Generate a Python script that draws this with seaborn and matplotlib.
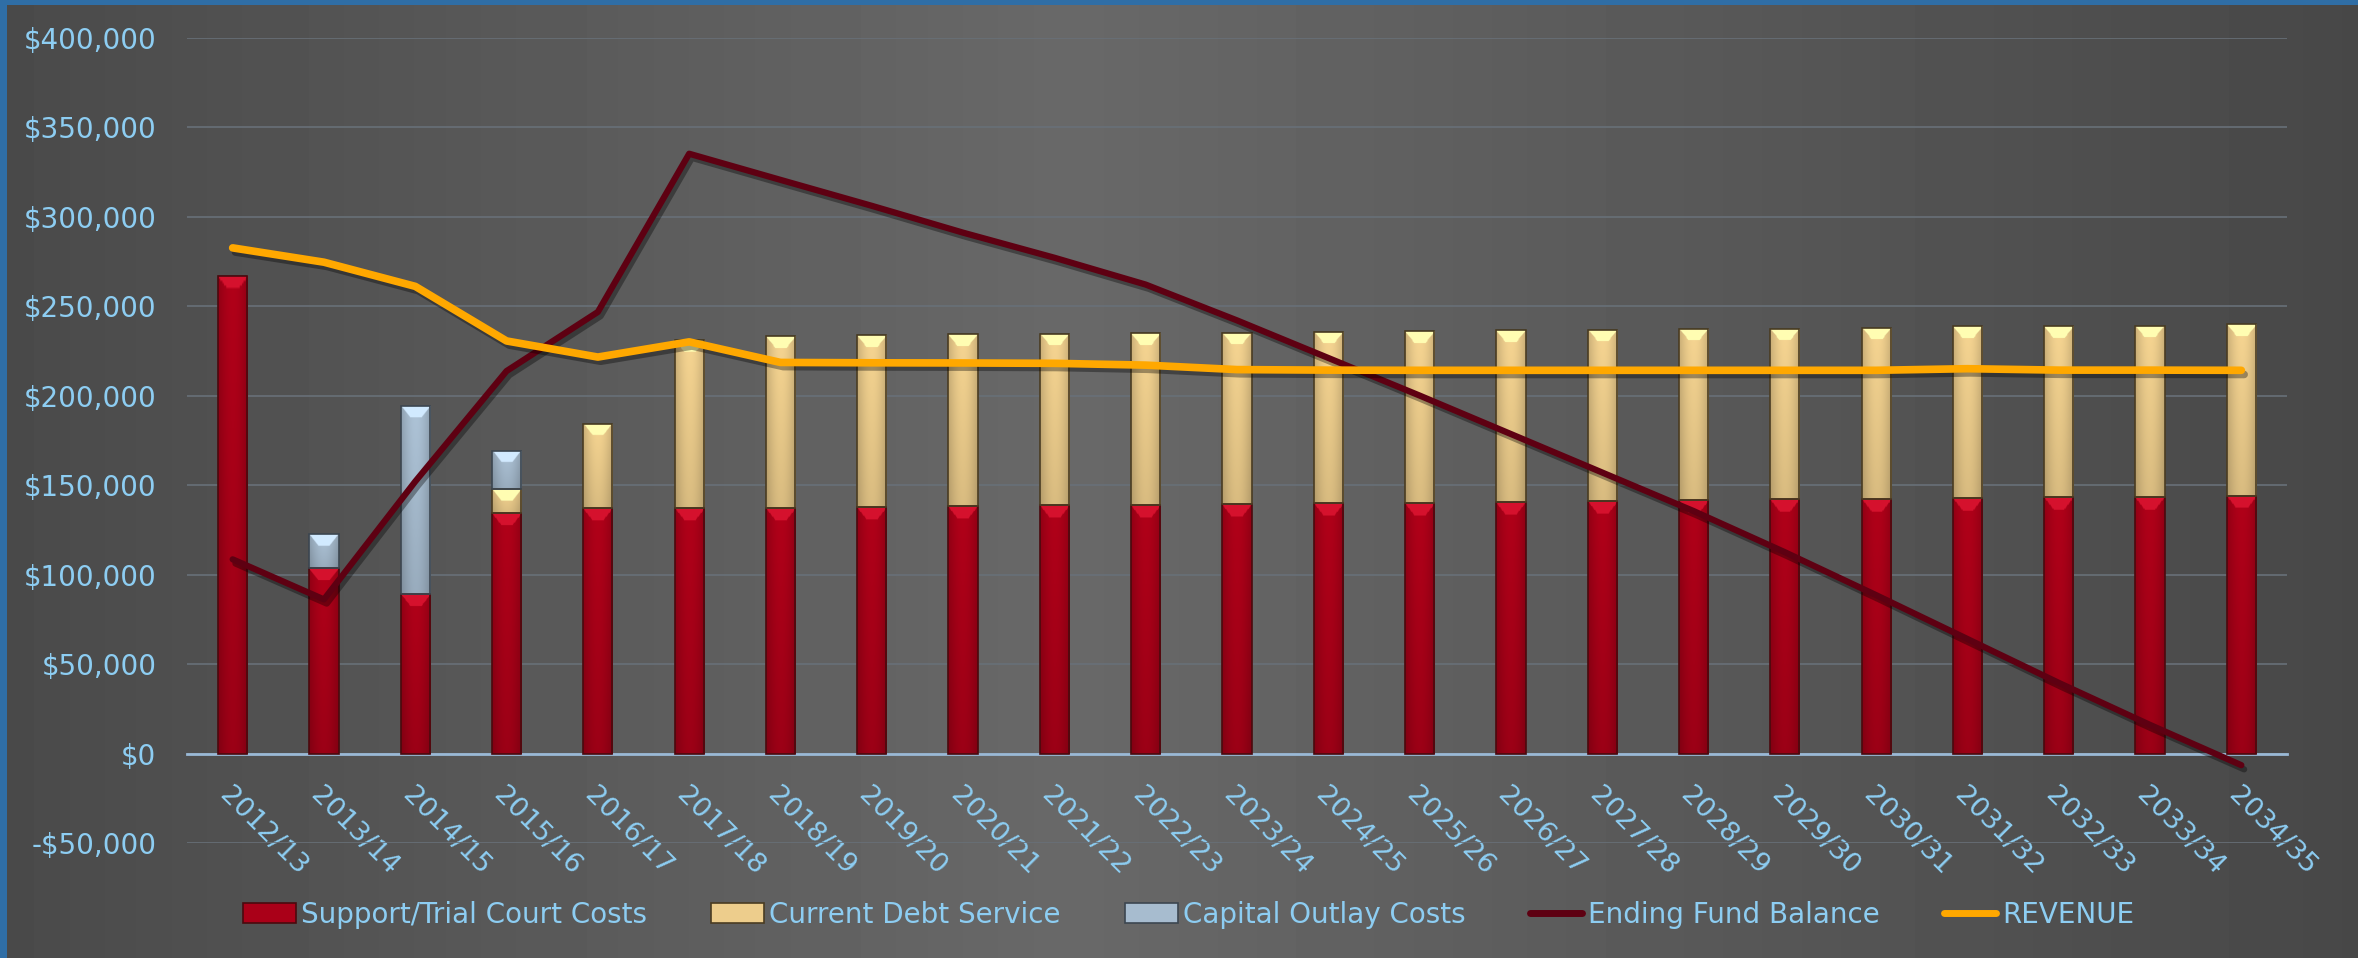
import numpy as np
import pandas as pd
import seaborn as sns
import matplotlib.pyplot as plt
import matplotlib.patheffects as pe
from matplotlib.colors import to_rgb
from matplotlib.patches import Patch
from matplotlib.lines import Line2D
from matplotlib.ticker import FuncFormatter

# valeurs
annees = ['2012/13', '2013/14', '2014/15', '2015/16', '2016/17', '2017/18', '2018/19',
          '2019/20', '2020/21', '2021/22', '2022/23', '2023/24', '2024/25', '2025/26',
          '2026/27', '2027/28', '2028/29', '2029/30', '2030/31', '2031/32', '2032/33',
          '2033/34', '2034/35']
support = [266600, 103500, 89100, 134200, 136900, 137000, 137300, 137800, 138300, 138700,
           139100, 139300, 139700, 140200, 140600, 140900, 141500, 142000, 142200, 142700,
           143200, 143500, 144100]
dette = [0, 0, 0, 13400, 47400, 93800, 95800, 95800, 95900, 95700, 95600, 95800, 95600,
         95700, 95800, 95900, 95800, 95300, 95800, 95900, 95400, 95600, 95600]
capital = [0, 18900, 105200, 21400, 0, 0, 0, 0, 0, 0, 0, 0, 0, 0, 0, 0, 0, 0, 0, 0, 0, 0, 0]
solde = [108500, 86100, 152000, 213700, 246700, 335100, 320500, 306000, 291000, 277000,
         262000, 242000, 221000, 200000, 178500, 157000, 135500, 112500, 88500, 64000,
         39500, 16000, -6500]
revenu = [282500, 274500, 261000, 230500, 221500, 230000, 218500, 218300, 218200, 218000,
          217000, 214500, 214200, 214100, 214100, 214100, 214100, 214100, 214100, 215000,
          214200, 214200, 214100]

df = pd.DataFrame({'Annee': annees, 'Support': support, 'Dette': dette, 'Capital': capital,
                   'Solde': solde, 'Revenu': revenu})
df['Base_capital'] = df['Support'] + df['Dette']

texte = '#8dcdf2'
rouge, beige, bleu = '#aa0018', '#edcd8c', '#a7bccf'
bordeaux, orange = '#5e0012', '#ffa800'

sns.set_style('white')
plt.rcParams['font.family'] = ['DejaVu Sans']

fig = plt.figure(figsize=(23.58, 9.58), dpi=100)
fig.patch.set_facecolor('#2f6ea6')

# fond gris en dégradé
fond = fig.add_axes([7 / 2358, 0, 1 - 7 / 2358, 1 - 5 / 958], zorder=-10)
xs = np.linspace(0, 1, 600)
profil = np.interp(xs, [0, 0.45, 1], [0.29, 0.41, 0.28])
img = np.tile(profil, (50, 1))
fond.imshow(img, cmap='gray', vmin=0, vmax=1, aspect='auto', extent=[0, 1, 0, 1])
fond.axis('off')

ax = fig.add_axes([187 / 2358, 0.120, 2100 / 2358, 0.8408])
ax.patch.set_alpha(0)

largeur = 0.32
sns.barplot(data=df, x='Annee', y='Support', color=rouge, width=largeur, saturation=1,
            edgecolor='#4a0a0e', linewidth=1.2, ax=ax, zorder=3)
sns.barplot(data=df, x='Annee', y='Dette', bottom=df['Support'], color=beige, width=largeur,
            saturation=1, edgecolor='#4a3c22', linewidth=1.2, ax=ax, zorder=3)
sns.barplot(data=df, x='Annee', y='Capital', bottom=df['Base_capital'], color=bleu,
            width=largeur, saturation=1, edgecolor='#3c4650', linewidth=1.2, ax=ax, zorder=3)

# effet biseauté sur chaque barre (dégradé horizontal + facette claire en haut)
u = np.linspace(0, 1, 40)
cyl = 0.86 + 0.18 * np.sin(np.pi * u)
biseau = 6500  # hauteur de la facette, en unités de données
for barre in list(ax.patches):
    h = barre.get_height()
    if h <= 0:
        continue
    x0, y0, w = barre.get_x(), barre.get_y(), barre.get_width()
    base = np.array(to_rgb(barre.get_facecolor()))
    n = 200
    v = np.linspace(1, 0, n)[:, None]  # 1 = haut
    dist = (1 - v) * h  # distance depuis le haut
    lum = np.tile(cyl, (n, 1)) * (1 - 0.12 * (1 - v))
    rgb = base[None, None, :] * lum[:, :, None]
    facette = (dist < biseau * 3.2 * np.minimum(u, 1 - u)[None, :]) & (dist < biseau)
    clair = base * 1.15 + 0.07
    rgb = np.where(facette[:, :, None], clair[None, None, :], rgb)
    rgb = np.clip(rgb, 0, 1)
    im = ax.imshow(rgb, extent=[x0, x0 + w, y0, y0 + h], aspect='auto', zorder=3.1,
                   interpolation='bilinear')
    im.set_clip_path(barre)
    barre.set_facecolor('none')
    barre.set_zorder(3.2)

ombre = [pe.SimpleLineShadow(offset=(2, -3), alpha=0.35), pe.Normal()]
sns.lineplot(data=df, x='Annee', y='Solde', sort=False, color=bordeaux, linewidth=4.5,
             solid_capstyle='round', solid_joinstyle='round', ax=ax, zorder=4,
             path_effects=ombre)
sns.lineplot(data=df, x='Annee', y='Revenu', sort=False, color=orange, linewidth=5.5,
             solid_capstyle='round', solid_joinstyle='round', ax=ax, zorder=5,
             path_effects=ombre)

ax.set_ylim(-50000, 400000)
ax.set_yticks(np.arange(-50000, 400001, 50000))
ax.set_xlim(-0.5, len(annees) - 0.5)
ax.yaxis.set_major_formatter(FuncFormatter(lambda v, _: f'-${-v:,.0f}' if v < 0 else f'${v:,.0f}'))
ax.yaxis.grid(True, color='#687078', linewidth=1.2, zorder=0)
ax.set_axisbelow(True)
ax.set_xlabel('')
ax.set_ylabel('')

for cote in ['top', 'left', 'right']:
    ax.spines[cote].set_visible(False)
ax.spines['bottom'].set_position(('data', 0))
ax.spines['bottom'].set_color('#9ab9d6')
ax.spines['bottom'].set_linewidth(2)
ax.spines['bottom'].set_zorder(2)

ax.tick_params(axis='y', length=0, pad=22, labelsize=20, labelcolor=texte)
ax.tick_params(axis='x', length=0, pad=21, labelsize=19.5, labelcolor=texte)
ax.set_xticks(range(len(annees)))
ax.set_xticklabels(annees, rotation=-45, ha='left', va='top', rotation_mode='anchor')

poignees = [
    Patch(facecolor=rouge, edgecolor='#4a0a0e', linewidth=1.2),
    Patch(facecolor=beige, edgecolor='#4a3c22', linewidth=1.2),
    Patch(facecolor=bleu, edgecolor='#3c4650', linewidth=1.2),
    Line2D([0], [0], color=bordeaux, linewidth=5, solid_capstyle='round'),
    Line2D([0], [0], color=orange, linewidth=5, solid_capstyle='round'),
]
etiquettes = ['Support/Trial Court Costs', 'Current Debt Service', 'Capital Outlay Costs',
              'Ending Fund Balance', 'REVENUE']
fig.legend(poignees, etiquettes, loc='center', bbox_to_anchor=(0.504, 0.045), ncol=5,
           frameon=False, fontsize=20, labelcolor=texte, handlelength=1.9, handleheight=0.7,
           handletextpad=0.2, columnspacing=2.3)

fig.savefig('out.png', dpi=100, facecolor=fig.get_facecolor())
